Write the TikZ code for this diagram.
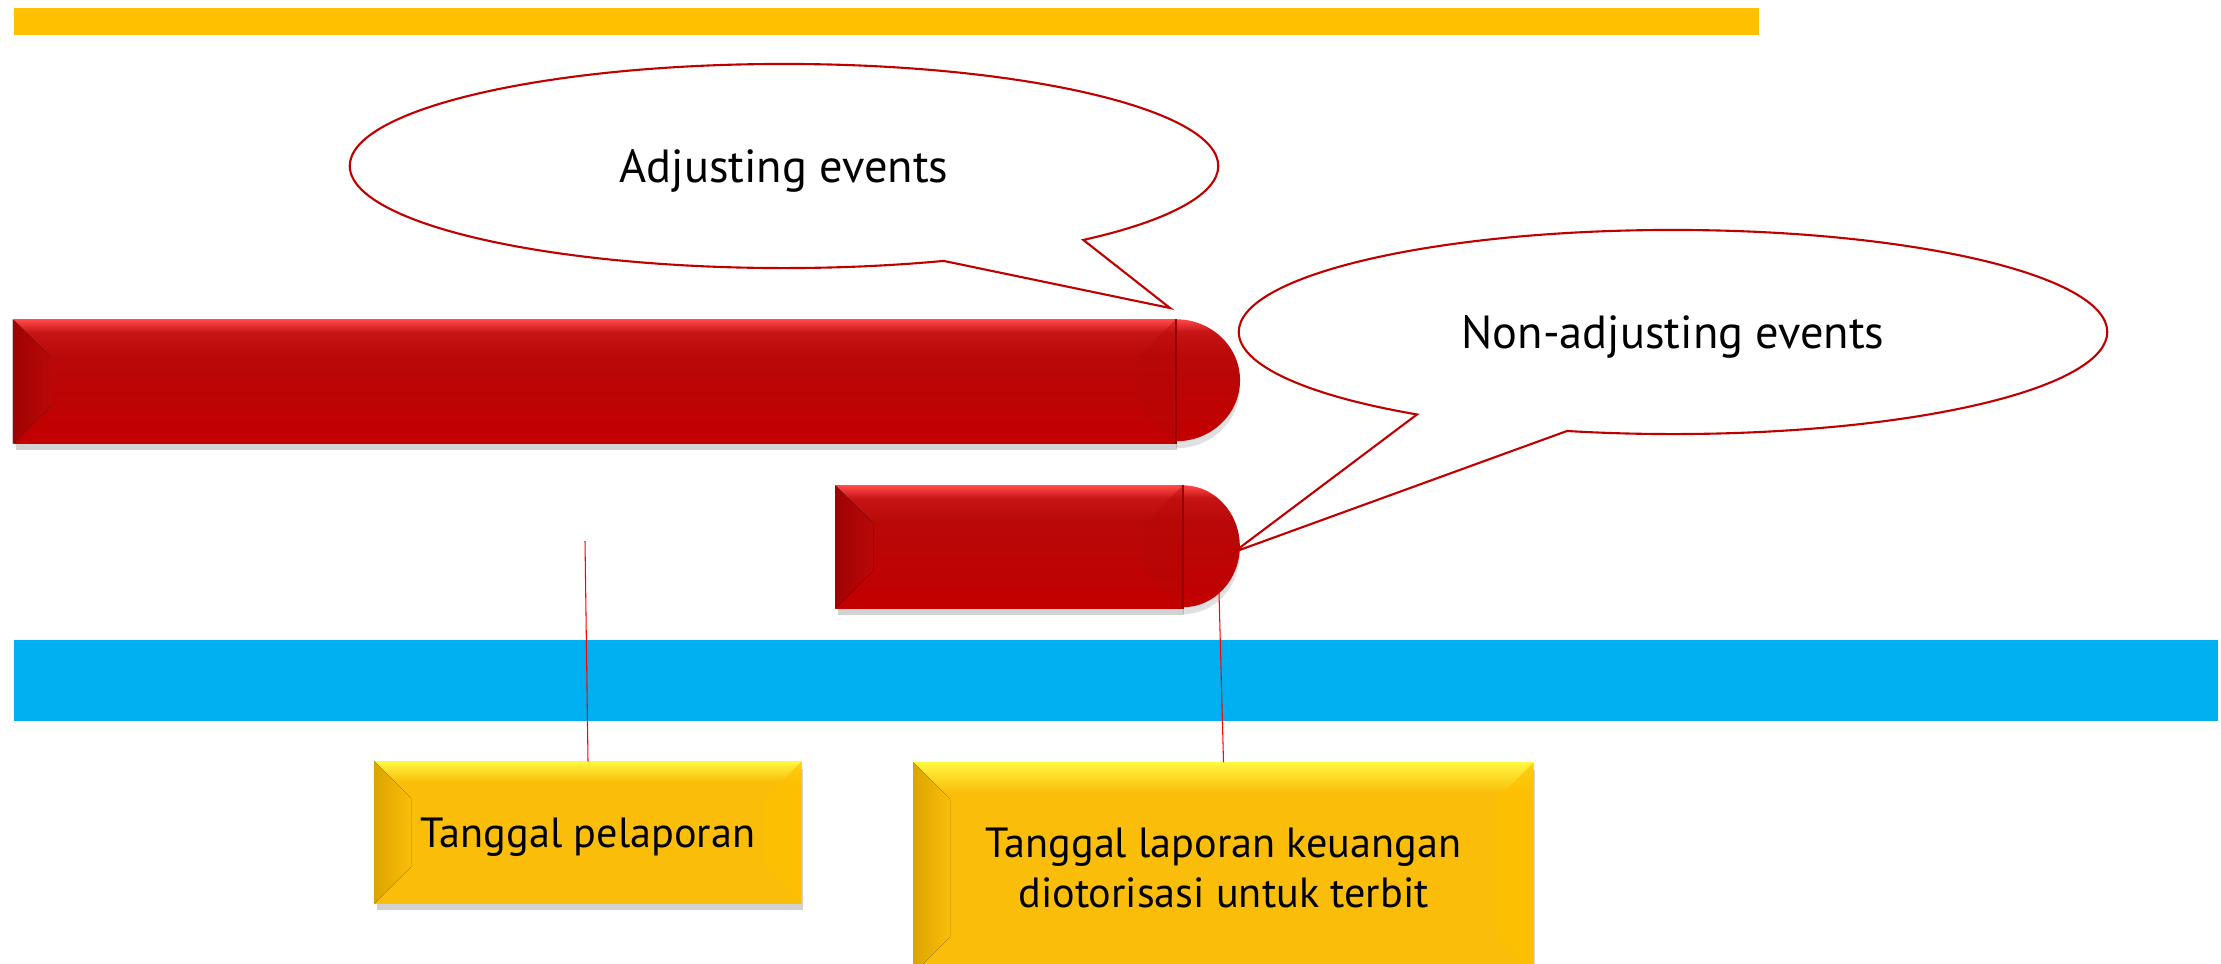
\documentclass[tikz,border=0pt]{standalone}
\usepackage{fontspec}
\setmainfont{PT Sans}
\usetikzlibrary{shapes.callouts,shadows}

\definecolor{barred}{HTML}{B90808}
\definecolor{barlow}{HTML}{C20000}
\definecolor{barlight}{HTML}{FF4848}
\definecolor{bardark}{HTML}{950000}
\definecolor{gold}{HTML}{FABE0A}
\definecolor{goldlight}{HTML}{FFF540}
\definecolor{golddark}{HTML}{DCA400}
\definecolor{skyband}{HTML}{00B0F0}
\definecolor{topband}{HTML}{FFC000}
\definecolor{bubblered}{HTML}{C00000}

\pgfdeclareverticalshading{redglass}{100bp}{color(0bp)=(barlow); color(25bp)=(barlow); color(28bp)=(barlow); color(60bp)=(barred); color(70bp)=(barred!80!barlight); color(75bp)=(barlight); color(100bp)=(barlight)}
\pgfdeclareverticalshading{goldglass}{100bp}{color(0bp)=(gold); color(25bp)=(gold); color(68bp)=(gold); color(75bp)=(goldlight); color(100bp)=(goldlight)}

\begin{document}
\begin{tikzpicture}[x=0.01cm, y=-0.01cm,
	every node/.style={font=\fontsize{12}{14}\selectfont},
	glow/.style={drop shadow={shadow xshift=0.02cm, shadow yshift=-0.07cm, opacity=0.35}},
	redbar/.style={rectangle, inner sep=0pt, shading=redglass, glow},
	bubble/.style={ellipse callout, draw=bubblered, line width=0.6pt, fill=white, minimum width=8.68cm, minimum height=2.04cm, callout pointer arc=22, font=\fontsize{13.2}{16}\selectfont, text depth=0pt},
	datebox/.style={rectangle, inner sep=0pt, shading=goldglass, glow, align=center},
	tick/.style={red, line width=0.3pt}]
	\clip (0,0) rectangle (2221,963);
	\fill[white] (0,0) rectangle (2221,963);
	\fill[topband] (14,8) rectangle (1759,35);
	\fill[skyband] (14,640) rectangle (2218,721);

	\node[redbar, minimum width=11.61cm, minimum height=1.23cm] (bar1) at (594.5,381.5) {};
	\node[redbar, minimum width=3.46cm, minimum height=1.22cm] (bar2) at (1009,547) {};
	\foreach \b/\r in {bar1/64, bar2/57} {
		\fill[left color=bardark!70!barred, right color=barred] (\b.north west) -- ++(38,38) -- ([shift={(38,-38)}]\b.south west) -- (\b.south west) -- cycle;
		\fill[barred!85!bardark, opacity=0.4] (\b.north east) -- ++(-38,38) -- ([shift={(-38,-38)}]\b.south east) -- (\b.south east) -- cycle;
		\fill[black, opacity=0.12] ([yshift=-0.07cm]\b.north east) arc[start angle=-90, end angle=90, x radius=\r, y radius=61] -- cycle;
		\shade[shading=redglass] (\b.north east) arc[start angle=-90, end angle=90, x radius=\r, y radius=61] -- cycle;
		\draw[bardark, line width=0.6pt] (\b.north east) -- (\b.south east);
	}

	\node[bubble, callout absolute pointer={(1170,308)}] (adj) at (784,166) {Adjusting events};
	\node[bubble, callout absolute pointer={(1234,552)}] (nonadj) at (1673,332) {Non-adjusting events};

	\coordinate (mark1) at (585,541);
	\coordinate (mark2) at (1219,593);
	\node[datebox, minimum width=4.26cm, minimum height=1.41cm, text depth=0pt] (report) at (588,832.5) {Tanggal pelaporan};
	\node[datebox, minimum width=6.19cm, minimum height=2.10cm] (auth) at (1223.5,868) {Tanggal laporan keuangan\\diotorisasi untuk terbit};
	\foreach \d in {report, auth} {
		\fill[left color=golddark, right color=gold] (\d.north west) -- ++(37,37) -- ([shift={(37,-37)}]\d.south west) -- (\d.south west) -- cycle;
		\fill[topband, opacity=0.7] (\d.north east) -- ++(-37,37) -- ([shift={(-37,-37)}]\d.south east) -- (\d.south east) -- cycle;
	}
	\draw[tick] (mark1) -- (report.north);
	\draw[tick] (mark2) -- (auth.north);
\end{tikzpicture}
\end{document}
